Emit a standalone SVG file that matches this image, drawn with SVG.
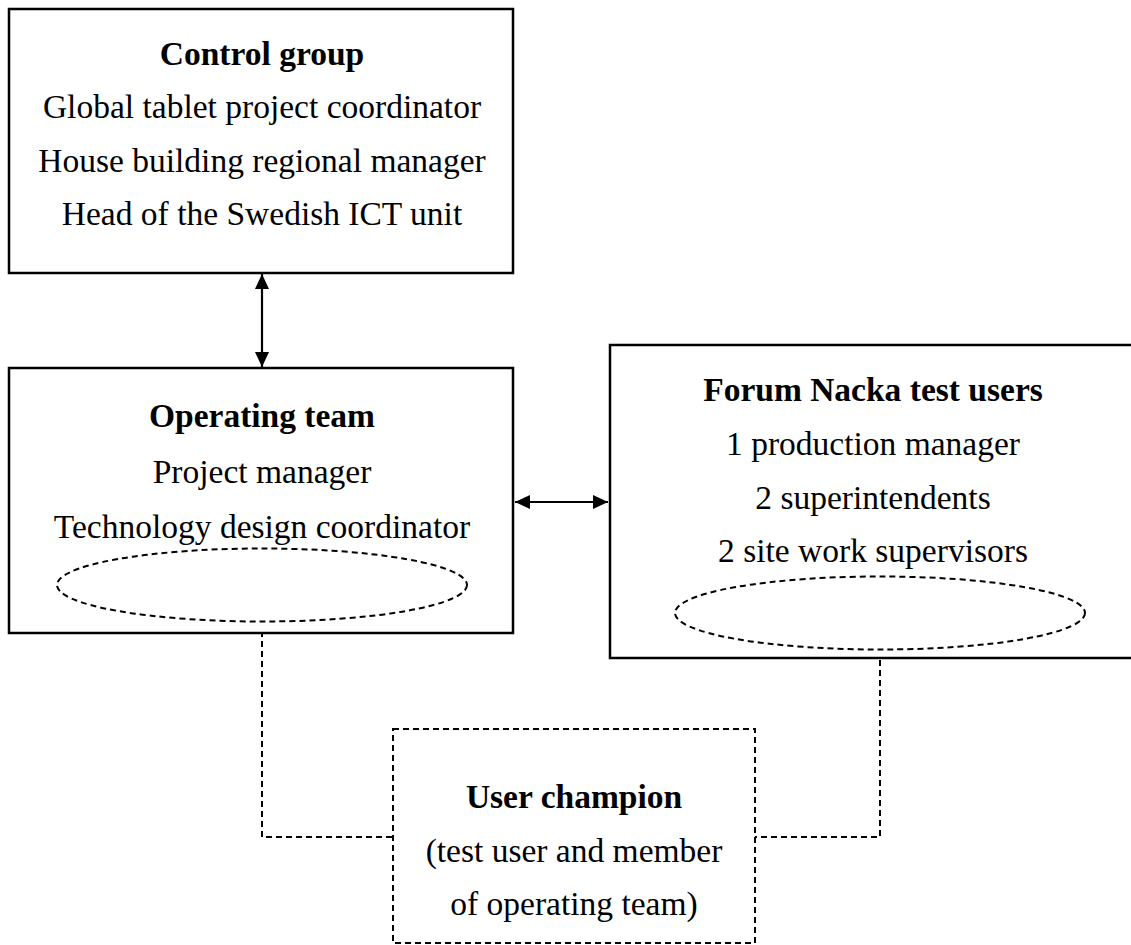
<svg xmlns="http://www.w3.org/2000/svg" width="1131" height="945" viewBox="0 0 1131 945">
<style>
.box{fill:#fff;stroke:#000;stroke-width:2.5}
.dbox{fill:#fff;stroke:#000;stroke-width:2;stroke-dasharray:6 4}
.ell{fill:none;stroke:#000;stroke-width:2;stroke-dasharray:6 4}
.con{fill:none;stroke:#000;stroke-width:2;stroke-dasharray:6 4}
.arr{fill:none;stroke:#000;stroke-width:2.2}
text{font-family:"Liberation Serif","DejaVu Serif",serif;font-size:33.5px;fill:#000;text-anchor:middle}
.t{font-weight:bold}
</style>
<defs>
<marker id="ah" viewBox="0 0 15 14" refX="15" refY="7" markerWidth="15" markerHeight="14" markerUnits="userSpaceOnUse" orient="auto-start-reverse">
<path d="M0,0L15,7L0,14z" fill="#000"/>
</marker>
</defs>
<g id="connectors">
<line class="arr" x1="262" y1="274" x2="262" y2="367" marker-start="url(#ah)" marker-end="url(#ah)"/>
<line class="arr" x1="515" y1="502" x2="608" y2="502" marker-start="url(#ah)" marker-end="url(#ah)"/>
<path class="con" d="M262,621V837H393"/>
<path class="con" d="M880,650V837H755"/>
</g>
<g id="control-group">
<rect class="box" x="9" y="9" width="504" height="264"/>
<text class="t" x="262" y="65">Control group</text>
<text x="262" y="118">Global tablet project coordinator</text>
<text x="262" y="172">House building regional manager</text>
<text x="262" y="225">Head of the Swedish ICT unit</text>
</g>
<g id="operating-team">
<rect class="box" x="9" y="368" width="504" height="265"/>
<text class="t" x="262" y="427">Operating team</text>
<text x="262" y="483">Project manager</text>
<text x="262" y="538">Technology design coordinator</text>
<ellipse class="ell" cx="262" cy="585" rx="205" ry="36.5"/>
</g>
<g id="forum-nacka">
<rect class="box" x="610" y="345" width="530" height="313"/>
<text class="t" x="873" y="401">Forum Nacka test users</text>
<text x="873" y="455">1 production manager</text>
<text x="873" y="509">2 superintendents</text>
<text x="873" y="562">2 site work supervisors</text>
<ellipse class="ell" cx="880" cy="613" rx="205" ry="36.5"/>
</g>
<g id="user-champion">
<rect class="dbox" x="393" y="729" width="362" height="214"/>
<text class="t" x="574" y="808">User champion</text>
<text x="574" y="862">(test user and member</text>
<text x="574" y="915">of operating team)</text>
</g>
</svg>
